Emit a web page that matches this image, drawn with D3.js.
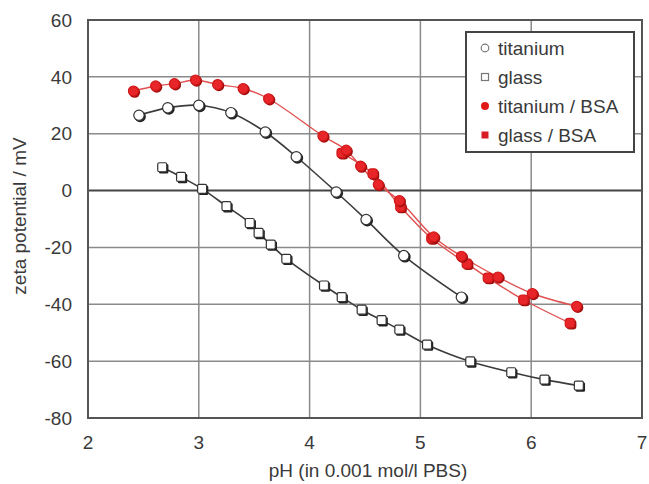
<!DOCTYPE html>
<html>
<head>
<meta charset="utf-8">
<script src="https://cdn.jsdelivr.net/npm/d3@7"></script>
<style>
  body { margin: 0; background: #fff; }
  text { font-family: "Liberation Sans", Arial, sans-serif; fill: #3a3a3a; }
</style>
</head>
<body>
<svg id="chart" width="649" height="484"></svg>
<script>
// values
var titaniumPH = [2.46, 2.72, 3.0, 3.29, 3.6, 3.88, 4.24, 4.51, 4.85, 5.37];
var titaniumZeta = [26.5, 29.1, 30.0, 27.4, 20.6, 11.9, -0.5, -10.2, -22.9, -37.5];

var glassPH = [2.67, 2.84, 3.03, 3.25, 3.46, 3.54, 3.65, 3.79, 4.13, 4.29, 4.47, 4.65, 4.81, 5.06, 5.45, 5.82, 6.12, 6.43];
var glassZeta = [8.2, 4.8, 0.6, -5.5, -11.4, -14.9, -19.0, -24.0, -33.4, -37.5, -41.9, -45.6, -48.9, -54.2, -60.1, -63.9, -66.5, -68.6];

var tiBsaPH = [2.41, 2.61, 2.78, 2.97, 3.17, 3.40, 3.63, 4.12, 4.33, 4.46, 4.62, 4.81, 5.12, 5.37, 5.70, 6.01, 6.41];
var tiBsaZeta = [35.0, 36.8, 37.6, 38.9, 37.3, 35.9, 32.3, 19.2, 14.2, 8.6, 2.1, -3.5, -16.3, -23.1, -30.4, -36.2, -40.7];

var glBsaPH = [4.29, 4.57, 4.82, 5.10, 5.42, 5.61, 5.93, 6.35];
var glBsaZeta = [13.2, 6.0, -5.7, -16.8, -25.7, -30.7, -38.4, -46.6];

var xTicks = [2, 3, 4, 5, 6, 7];
var yTicks = [-80, -60, -40, -20, 0, 20, 40, 60];
var legendNames = ["titanium", "glass", "titanium / BSA", "glass / BSA"];

var svg = d3.select("#chart");

var x = d3.scaleLinear().domain([2, 7]).range([88, 642]);
var y = d3.scaleLinear().domain([-80, 60]).range([418, 20]);

function pairs(xs, ys) {
    return xs.map(function (d, i) { return [d, ys[i]]; });
}

// grid
svg.selectAll(".vgrid")
    .data(xTicks.slice(1, -1))
    .enter().append("line")
    .attr("x1", function (d) { return x(d); })
    .attr("x2", function (d) { return x(d); })
    .attr("y1", y(60)).attr("y2", y(-80))
    .attr("stroke", "#8a8a8a").attr("stroke-width", 1.5);

svg.selectAll(".hgrid")
    .data(yTicks.filter(function (d) { return d !== 0 && d !== 60 && d !== -80; }))
    .enter().append("line")
    .attr("x1", x(2)).attr("x2", x(7))
    .attr("y1", function (d) { return y(d); })
    .attr("y2", function (d) { return y(d); })
    .attr("stroke", "#8a8a8a").attr("stroke-width", 1.5);

svg.append("line")
    .attr("x1", x(2)).attr("x2", x(7))
    .attr("y1", y(0)).attr("y2", y(0))
    .attr("stroke", "#444").attr("stroke-width", 2);

svg.append("rect")
    .attr("x", x(2)).attr("y", y(60))
    .attr("width", x(7) - x(2)).attr("height", y(-80) - y(60))
    .attr("fill", "none").attr("stroke", "#555").attr("stroke-width", 2);

// tick labels
svg.selectAll(".ylab")
    .data(yTicks)
    .enter().append("text")
    .attr("x", 72)
    .attr("y", function (d) { return y(d); })
    .attr("dy", "0.35em")
    .attr("text-anchor", "end")
    .attr("font-size", 19)
    .text(function (d) { return d; });

svg.selectAll(".xlab")
    .data(xTicks)
    .enter().append("text")
    .attr("x", function (d) { return x(d); })
    .attr("y", 442)
    .attr("dy", "0.35em")
    .attr("text-anchor", "middle")
    .attr("font-size", 19)
    .text(function (d) { return d; });

svg.append("text")
    .attr("x", 368).attr("y", 477)
    .attr("text-anchor", "middle")
    .attr("font-size", 19)
    .text("pH (in 0.001 mol/l PBS)");

svg.append("text")
    .attr("transform", "translate(26,216) rotate(-90)")
    .attr("text-anchor", "middle")
    .attr("font-size", 19)
    .text("zeta potential / mV");

// lines
var line = d3.line()
    .x(function (d) { return x(d[0]); })
    .y(function (d) { return y(d[1]); })
    .curve(d3.curveCatmullRom.alpha(0.5));

function drawLine(data, color, width) {
    svg.append("path")
        .attr("d", line(data))
        .attr("fill", "none")
        .attr("stroke", color)
        .attr("stroke-width", width);
}

drawLine(pairs(titaniumPH, titaniumZeta), "#3c3c3c", 1.6);
drawLine(pairs(glassPH, glassZeta), "#3c3c3c", 1.6);
drawLine(pairs(tiBsaPH, tiBsaZeta), "#e05050", 1.4);
drawLine(pairs(glBsaPH, glBsaZeta), "#e05050", 1.4);

// markers
function circles(data, fill, stroke, r) {
    var g = svg.append("g");
    g.selectAll(".sh").data(data).enter().append("circle")
        .attr("cx", function (d) { return x(d[0]) + 1.2; })
        .attr("cy", function (d) { return y(d[1]) + 1.2; })
        .attr("r", r + 0.5)
        .attr("fill", fill === "#fff" ? "#222" : "#a01010");
    g.selectAll(".pt").data(data).enter().append("circle")
        .attr("cx", function (d) { return x(d[0]); })
        .attr("cy", function (d) { return y(d[1]); })
        .attr("r", r)
        .attr("fill", fill)
        .attr("stroke", stroke)
        .attr("stroke-width", 1.2);
}

function squares(data, fill, stroke, s, rx) {
    var g = svg.append("g");
    g.selectAll(".sh").data(data).enter().append("rect")
        .attr("x", function (d) { return x(d[0]) - s / 2 + 1.2; })
        .attr("y", function (d) { return y(d[1]) - s / 2 + 1.2; })
        .attr("width", s + 0.5).attr("height", s + 0.5)
        .attr("rx", rx)
        .attr("fill", fill === "#fff" ? "#222" : "#a01010");
    g.selectAll(".pt").data(data).enter().append("rect")
        .attr("x", function (d) { return x(d[0]) - s / 2; })
        .attr("y", function (d) { return y(d[1]) - s / 2; })
        .attr("width", s).attr("height", s)
        .attr("rx", rx)
        .attr("fill", fill)
        .attr("stroke", stroke)
        .attr("stroke-width", 1.2);
}

circles(pairs(titaniumPH, titaniumZeta), "#fff", "#333", 5.2);
squares(pairs(glassPH, glassZeta), "#fff", "#333", 9, 1.5);
squares(pairs(glBsaPH, glBsaZeta), "#e8262a", "#d01818", 9.5, 3.5);
circles(pairs(tiBsaPH, tiBsaZeta), "#e8262a", "#d01818", 5);

// legend
var legend = svg.append("g");
legend.append("rect")
    .attr("x", 466).attr("y", 32)
    .attr("width", 168).attr("height", 120)
    .attr("fill", "#fff")
    .attr("stroke", "#444").attr("stroke-width", 2);

var legendY = [48, 77, 106, 135];

legendNames.forEach(function (name, i) {
    var cy = legendY[i];
    if (i === 0) {
        legend.append("circle").attr("cx", 485).attr("cy", cy).attr("r", 3.8)
            .attr("fill", "#fff").attr("stroke", "#777").attr("stroke-width", 1.2);
    } else if (i === 1) {
        legend.append("rect").attr("x", 481.5).attr("y", cy - 3.5).attr("width", 7).attr("height", 7)
            .attr("fill", "#fff").attr("stroke", "#777").attr("stroke-width", 1.2);
    } else if (i === 2) {
        legend.append("circle").attr("cx", 485).attr("cy", cy).attr("r", 4)
            .attr("fill", "#e01818");
    } else {
        legend.append("rect").attr("x", 481.5).attr("y", cy - 3.5).attr("width", 7).attr("height", 7)
            .attr("fill", "#d81c24");
    }
    legend.append("text")
        .attr("x", 498).attr("y", cy)
        .attr("dy", "0.35em")
        .attr("font-size", 19)
        .text(name);
});
</script>
</body>
</html>
